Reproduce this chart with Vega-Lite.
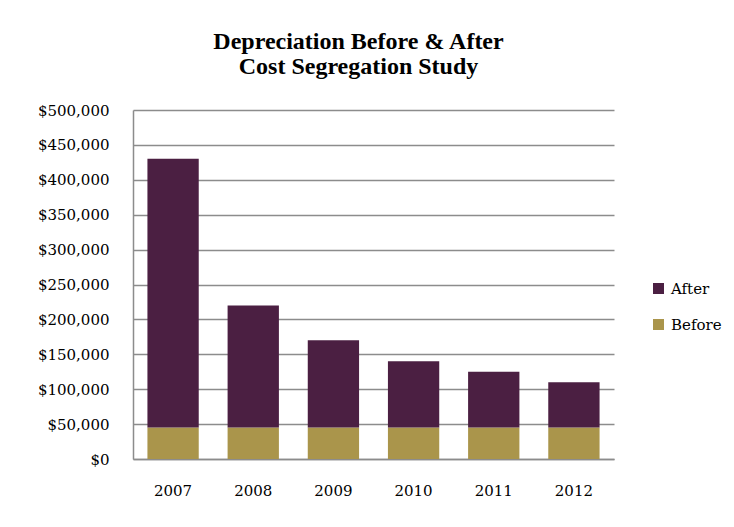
{
  "$schema": "https://vega.github.io/schema/vega-lite/v6.json",
  "width": 481,
  "height": 349,
  "autosize": {"type": "none"},
  "padding": {"left": 133, "top": 110, "right": 120, "bottom": 68},
  "background": "white",
  "title": {
    "text": ["Depreciation Before & After", "Cost Segregation Study"],
    "font": "Liberation Serif",
    "fontSize": 24,
    "fontWeight": "bold",
    "color": "black",
    "anchor": "middle",
    "frame": "group",
    "dx": -15,
    "offset": 24,
    "lineHeight": 25
  },
  "data": {
    "values": [
      {"year": "2007", "series": "Before", "value": 45000},
      {"year": "2007", "series": "After", "value": 385000},
      {"year": "2008", "series": "Before", "value": 45000},
      {"year": "2008", "series": "After", "value": 175000},
      {"year": "2009", "series": "Before", "value": 45000},
      {"year": "2009", "series": "After", "value": 125000},
      {"year": "2010", "series": "Before", "value": 45000},
      {"year": "2010", "series": "After", "value": 95000},
      {"year": "2011", "series": "Before", "value": 45000},
      {"year": "2011", "series": "After", "value": 80000},
      {"year": "2012", "series": "Before", "value": 45000},
      {"year": "2012", "series": "After", "value": 65000}
    ]
  },
  "mark": {"type": "bar"},
  "encoding": {
    "x": {
      "field": "year",
      "type": "nominal",
      "scale": {"paddingInner": 0.36, "paddingOuter": 0.18},
      "axis": {
        "title": null,
        "labelAngle": 0,
        "labelFont": "DejaVu Serif",
        "labelFontSize": 15,
        "labelColor": "black",
        "labelPadding": 24,
        "ticks": false,
        "domainColor": "#8c8c8c",
        "domainWidth": 1.5
      }
    },
    "y": {
      "field": "value",
      "type": "quantitative",
      "stack": "zero",
      "scale": {"domain": [0, 500000], "nice": false},
      "axis": {
        "title": null,
        "values": [0, 50000, 100000, 150000, 200000, 250000, 300000, 350000, 400000, 450000, 500000],
        "format": "$,.0f",
        "labelFont": "DejaVu Serif",
        "labelFontSize": 15,
        "labelColor": "black",
        "labelPadding": 24,
        "ticks": false,
        "grid": true,
        "gridColor": "#8c8c8c",
        "gridWidth": 1.4,
        "domainColor": "#8c8c8c",
        "domainWidth": 1.5
      }
    },
    "color": {
      "field": "series",
      "type": "nominal",
      "scale": {"domain": ["After", "Before"], "range": ["#4B1F42", "#AA954B"]},
      "legend": {
        "title": null,
        "orient": "none",
        "legendX": 518,
        "legendY": 171,
        "symbolType": "square",
        "symbolSize": 121,
        "symbolStrokeWidth": 0,
        "labelFont": "DejaVu Serif",
        "labelFontSize": 15,
        "labelColor": "black",
        "labelOffset": 5,
        "rowPadding": 20
      }
    },
    "order": {"field": "series", "sort": "descending"}
  },
  "config": {
    "view": {"stroke": null}
  }
}
